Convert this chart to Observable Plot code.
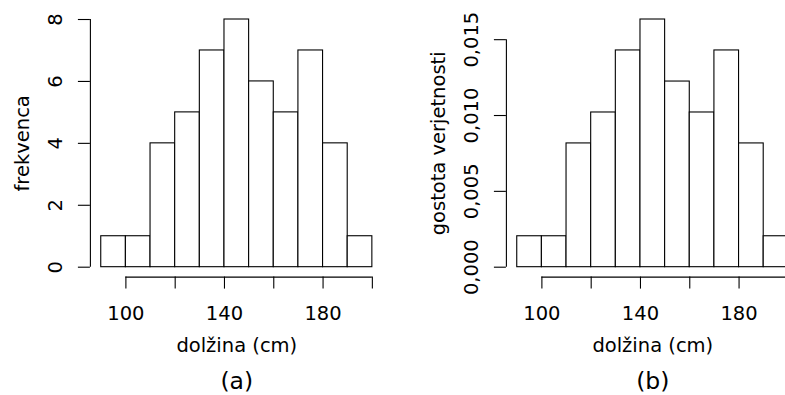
<!DOCTYPE html>
<html>
<head>
<meta charset="utf-8">
<script src="https://cdn.jsdelivr.net/npm/d3@7"></script>
<script src="https://cdn.jsdelivr.net/npm/@observablehq/plot@0.6"></script>
<style>
  html, body { margin: 0; padding: 0; background: #fff; }
  #wrap { width: 785px; height: 395px; overflow: hidden; display: flex; flex-wrap: nowrap; }
  #wrap svg { flex-shrink: 0; display: block; }
</style>
</head>
<body>
<div id="wrap"></div>
<script>
// Histogram bins (cm)
const binStart = [90, 100, 110, 120, 130, 140, 150, 160, 170, 180, 190];
const binEnd   = [100, 110, 120, 130, 140, 150, 160, 170, 180, 190, 200];
// Panel (a): frequencies
const counts = [1, 1, 4, 5, 7, 8, 6, 5, 7, 4, 1];
// Panel (b): probability densities
const densities = [0.00204, 0.00204, 0.00816, 0.01020, 0.01429, 0.01633, 0.01224, 0.01020, 0.01429, 0.00816, 0.00204];
// Ticks
const xTicks = [100, 120, 140, 160, 180, 200];
const xTickLabels = [100, 140, 180];
const yTicksA = [0, 2, 4, 6, 8];
const yTicksB = [0, 0.005, 0.010, 0.015];
const xLabel = "dolžina (cm)";
const yLabelA = "frekvenca";
const yLabelB = "gostota verjetnosti";
const captionA = "(a)";
const captionB = "(b)";

function panel(values, yTicks, yFmt, yLabel, caption) {
  const rows = values.map((v, i) => ({x1: binStart[i], x2: binEnd[i], v}));
  const xmin = d3.min(binStart), xmax = d3.max(binEnd);
  const xpad = (xmax - xmin) * 0.04;
  const ymax = d3.max(values);
  const ypad = ymax * 0.04;
  const x0 = xmin - xpad;
  const y0 = -ypad;
  return Plot.plot({
    width: 416,
    height: 395,
    marginLeft: 89.9,
    marginRight: 33.3,
    marginTop: 9.1,
    marginBottom: 118.4,
    style: {fontFamily: "DejaVu Sans", fontSize: "19.5px", color: "#000", background: "#fff", overflow: "visible"},
    x: {domain: [x0, xmax + xpad]},
    y: {domain: [y0, ymax + ypad]},
    marks: [
      Plot.rectY(rows, {x1: "x1", x2: "x2", y1: 0, y2: "v", fill: "#fff", stroke: "#000", strokeWidth: 1.1}),
      // x axis
      Plot.ruleY([y0], {x1: d3.min(xTicks), x2: d3.max(xTicks), stroke: "#000", strokeWidth: 1.1}),
      Plot.axisX({ticks: xTicks, tickSize: 12, tickPadding: 17, stroke: "#000", strokeWidth: 1.1, label: null,
        tickFormat: d => xTickLabels.includes(d) ? String(d) : ""}),
      // y axis
      Plot.ruleX([x0], {y1: d3.min(yTicks), y2: d3.max(yTicks), stroke: "#000", strokeWidth: 1.1}),
      Plot.axisY({ticks: yTicks, tickSize: 12, tickPadding: 16, tickRotate: -90, stroke: "#000", strokeWidth: 1.1, label: null,
        tickFormat: yFmt}),
      // labels
      Plot.text([yLabel], {frameAnchor: "left", rotate: -90, dx: -61, textAnchor: "middle", lineAnchor: "bottom", fill: "#000"}),
      Plot.text([xLabel], {frameAnchor: "bottom", dy: 75, textAnchor: "middle", lineAnchor: "bottom", fill: "#000"}),
      Plot.text([caption], {frameAnchor: "bottom", dy: 112, fontSize: 23.5, textAnchor: "middle", lineAnchor: "bottom", fill: "#000"})
    ]
  });
}

const wrap = document.getElementById("wrap");
wrap.appendChild(panel(counts, yTicksA, d => String(d), yLabelA, captionA));
wrap.appendChild(panel(densities, yTicksB, d => d.toFixed(3).replace(".", ","), yLabelB, captionB));
</script>
</body>
</html>
